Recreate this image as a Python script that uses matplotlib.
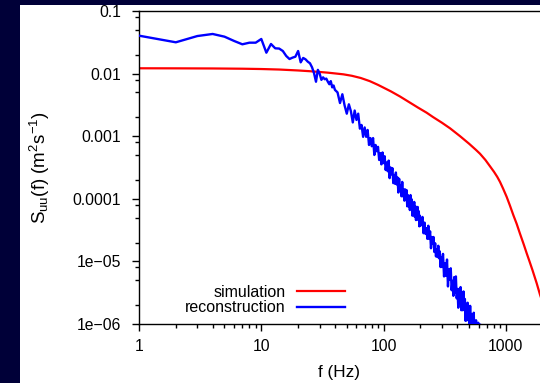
import numpy as np
import matplotlib
matplotlib.use("Agg")
import matplotlib.pyplot as plt
from matplotlib.ticker import NullFormatter, LogLocator

plt.rcParams['font.family'] = ['Liberation Sans', 'DejaVu Sans']
plt.rcParams['mathtext.fontset'] = 'custom'
plt.rcParams['mathtext.rm'] = 'Liberation Sans'
plt.rcParams['mathtext.it'] = 'Liberation Sans'
plt.rcParams['axes.unicode_minus'] = True

# ---- data -------------------------------------------------------------
sim_freq = [1, 2, 4, 7, 10, 14, 20, 25, 30, 35, 40, 47, 55, 65, 77, 90, 100, 115,
            136, 160, 190, 225, 254, 300, 350, 422, 500, 570, 614, 680, 741, 800,
            850, 895, 950, 1015, 1080, 1150, 1225, 1300, 1400, 1479, 1560, 1650,
            1786, 1900, 2000]
sim_log = [-1.915, -1.916, -1.918, -1.922, -1.927, -1.935, -1.950, -1.962, -1.974,
           -1.985, -1.997, -2.012, -2.035, -2.07, -2.12, -2.18, -2.225, -2.285,
           -2.365, -2.45, -2.54, -2.625, -2.695, -2.785, -2.875, -3.00, -3.12, -3.22,
           -3.28, -3.38, -3.48, -3.57, -3.65, -3.73, -3.84, -3.97, -4.11, -4.26,
           -4.40, -4.55, -4.73, -4.87, -5.00, -5.14, -5.35, -5.53, -5.66]

rec_freq_a = list(range(1, 41))
rec_log_a = [-1.394, -1.50, -1.40, -1.367, -1.41, -1.479, -1.532, -1.506, -1.506, -1.447,
             -1.666, -1.527, -1.596, -1.60, -1.639, -1.719, -1.767, -1.745, -1.73, -1.639,
             -1.82, -1.75, -1.772, -1.81, -1.835, -1.90, -1.995, -2.13, -1.94, -2.0,
             -2.10, -2.06, -2.09, -2.08, -2.13, -2.17, -2.12, -2.22, -2.19, -2.26]
rec_freq_b = list(range(42, 101, 2))
rec_log_b = [-2.30, -2.47, -2.33, -2.51, -2.64, -2.49, -2.60, -2.78, -2.59, -2.74,
             -2.64, -2.88, -2.82, -3.01, -2.86, -3.01, -2.90, -3.14, -3.03, -3.16,
             -3.03, -3.30, -3.14, -3.24, -3.17, -3.38, -3.27, -3.45, -3.26, -3.43]
rec_freq_c = list(range(102, 201, 2))
rec_log_c = [-3.32, -3.54, -3.42, -3.56, -3.39, -3.67, -3.50, -3.61, -3.51, -3.75,
             -3.63, -3.76, -3.58, -3.77, -3.66, -3.90, -3.68, -3.86, -3.79, -3.96,
             -3.73, -3.96, -3.85, -4.03, -3.85, -3.97, -3.86, -4.12, -3.94, -4.12,
             -4.00, -4.18, -3.94, -4.16, -4.01, -4.27, -4.08, -4.19, -4.05, -4.29,
             -4.12, -4.34, -4.20, -4.33, -4.13, -4.33, -4.20, -4.44, -4.27, -4.43]
rec_freq_d = list(range(204, 301, 4))
rec_log_d = [-4.38, -4.29, -4.55, -4.38, -4.56, -4.47, -4.64, -4.43, -4.64, -4.52,
             -4.79, -4.61, -4.72, -4.61, -4.85, -4.71, -4.92, -4.81, -4.93, -4.75,
             -4.95, -4.84, -5.09, -4.93, -5.09]
rec_freq_e = list(range(306, 637, 6))
rec_log_e = [-4.88, -5.24, -5.03, -5.23, -4.97, -5.40, -5.13, -5.29, -5.11, -5.46,
             -5.31, -5.55, -5.25, -5.50, -5.24, -5.59, -5.44, -5.74, -5.44, -5.63,
             -5.41, -5.78, -5.56, -5.78, -5.48, -5.74, -5.60, -5.95, -5.71, -5.94,
             -5.66, -5.93, -5.82, -6.06, -5.71, -6.05, -5.84, -6.18, -5.86, -6.05,
             -5.82, -6.20, -5.99, -6.17, -5.94, -6.30, -6.03, -6.21, -5.98, -6.31,
             -6.08, -6.40, -6.01, -6.32, -6.13, -6.43]

ytick_vals = [1e-6, 1e-5, 1e-4, 1e-3, 1e-2, 1e-1]
ytick_labels = ['1e\u221206', '1e\u221205', '0.0001', '0.001', '0.01', '0.1']
xtick_vals = [1, 10, 100, 1000]
xtick_labels = ['1', '10', '100', '1000']

rec_freq = np.array(rec_freq_a + rec_freq_b + rec_freq_c + rec_freq_d + rec_freq_e,
                    dtype=float)
rec_val = 10.0 ** np.array(rec_log_a + rec_log_b + rec_log_c + rec_log_d + rec_log_e)
sim_val = 10.0 ** np.array(sim_log)

# ---- figure -----------------------------------------------------------
W, H = 540, 383
fig = plt.figure(figsize=(W / 100, H / 100), dpi=100)
fig.patch.set_facecolor('#000038')
page = plt.Rectangle((20 / W, 0), 1 - 20 / W, 1 - 5 / H,
                     transform=fig.transFigure, facecolor='white',
                     edgecolor='none', zorder=-10)
fig.add_artist(page)

ax = fig.add_axes([139 / W, 1 - 324 / H, 1 - 139 / W, (324 - 11) / H])
ax.set_zorder(1)
ax.set_facecolor('none')
ax.set_xscale('log')
ax.set_yscale('log')
ax.set_xlim(1, 10 ** (401 / 122.3))
ax.set_ylim(1e-6, 0.1)

ax.plot(sim_freq, sim_val, color='#ff0000', lw=1.6, label='simulation', zorder=2)
ax.plot(rec_freq, rec_val, color='#0000ff', lw=1.7, label='reconstruction', zorder=3)

ax.spines['right'].set_visible(False)
for s in ['left', 'bottom', 'top']:
    ax.spines[s].set_linewidth(1.0)
    ax.spines[s].set_color('black')

ax.set_xticks(xtick_vals)
ax.set_xticklabels(xtick_labels)
ax.set_yticks(ytick_vals)
ax.set_yticklabels(ytick_labels)
ax.xaxis.set_minor_locator(LogLocator(base=10, subs=np.arange(2, 10), numticks=20))
ax.yaxis.set_minor_locator(LogLocator(base=10, subs=(2.0, 5.0, 8.0), numticks=20))
ax.xaxis.set_minor_formatter(NullFormatter())
ax.yaxis.set_minor_formatter(NullFormatter())
ax.tick_params(which='major', direction='out', length=5, width=1.0, labelsize=11.3,
               top=False, right=False)
ax.tick_params(which='minor', direction='out', length=3, width=1.0,
               top=False, right=False)
ax.tick_params(axis='x', which='major', pad=6)
ax.tick_params(axis='y', which='major', pad=8)

ax.set_xlabel('f (Hz)', fontsize=12.3, labelpad=8)
ax.set_ylabel(r'S$_{\rm uu}$(f) (m$^{2}$s$^{-1}$)', fontsize=13.5, labelpad=15)

leg = ax.legend(loc='center right', bbox_to_anchor=(345 / W, 1 - 300 / H),
                bbox_transform=fig.transFigure, frameon=False, markerfirst=False,
                fontsize=11.5, handlelength=3.0, handletextpad=0.7,
                labelspacing=0.02, borderpad=0, borderaxespad=0)

fig.savefig('out.png', dpi=100, facecolor=fig.get_facecolor())
